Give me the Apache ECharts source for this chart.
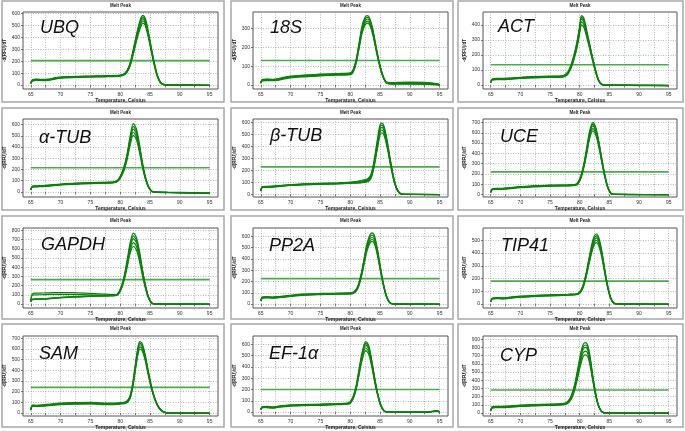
<!DOCTYPE html>
<html><head><meta charset="utf-8">
<script src="https://cdn.jsdelivr.net/npm/echarts@6/dist/echarts.min.js"></script>
<style>html,body{margin:0;padding:0;background:#fff;}#c{width:685px;height:431px;}</style>
</head><body><div id="c"></div>
<script>
// ---- Data ----
const geneNames = ['UBQ','18S','ACT','α-TUB','β-TUB','UCE','GAPDH','PP2A','TIP41','SAM','EF-1α','CYP'];
const thresholds = [205,130,135,215,230,220,265,225,180,240,200,280];
const yLabelMax = [600,300,400,600,600,700,800,600,500,700,600,900];
const xTickLabels = [65,70,75,80,85,90,95];
const xGridValues = [65,67.5,70,72.5,75,77.5,80,82.5,85,87.5,90,92.5,95];

const T_UBQ  = [65,65.3,66,67,68,69,70,72,75,78,80,80.8,81.5,82,82.5,83,83.5,83.8,84.2,84.7,85.2,85.7,86.2,86.7,87.2,88,90,95];
const UBQ_a  = [20,45,50,47,50,60,66,72,76,79,84,100,160,255,370,480,565,585,560,455,320,195,90,30,8,1,0,-2];
const UBQ_d  = [18,43,48,44,48,58,64,70,74,77,82,97,156,250,362,472,552,570,545,440,308,186,84,27,6,0,0,-2];
const UBQ_b  = [15,40,45,42,45,55,62,68,72,75,80,95,150,240,350,460,540,555,530,430,300,180,80,25,5,0,0,-2];
const UBQ_e  = [12,38,42,40,43,52,60,66,70,72,78,92,144,230,335,440,518,538,515,418,292,175,78,24,5,0,0,-3];
const UBQ_c  = [10,35,40,38,40,50,57,63,67,70,75,88,140,220,320,420,495,520,500,405,285,170,75,22,4,0,0,-3];

const T_18S  = [65,65.3,66,67,68,69,70,72,75,78,80,80.5,81,81.5,82,82.5,82.9,83.3,83.8,84.3,84.8,85.3,85.8,86.3,87,88,90,93,95];
const S18_a  = [16,30,31,30,34,42,47,52,58,61,64,82,135,225,315,360,368,352,295,212,132,70,28,14,13,14,15,13,4];
const S18_d  = [14,28,30,29,32,40,45,50,56,59,62,78,130,218,305,350,359,344,288,206,128,67,26,12,11,12,13,11,3];
const S18_b  = [12,27,28,27,30,38,43,48,54,57,60,75,125,210,295,340,350,335,280,200,125,65,25,10,8,9,10,8,2];
const S18_e  = [10,25,26,25,28,36,41,46,52,55,58,72,120,202,285,329,339,325,272,195,121,62,23,8,6,7,7,6,1];
const S18_c  = [8,22,23,23,26,33,38,43,49,52,55,68,115,195,275,318,328,315,265,190,118,60,22,7,5,5,5,4,0];

const T_ACT  = [65,65.3,66,67,68,70,72,75,77,77.5,78,78.5,79,79.5,80,80.3,80.7,81.2,81.7,82.2,82.7,83.2,83.7,84.2,86,90,95];
const ACT_a  = [22,42,44,44,46,52,56,59,61,68,88,130,195,280,395,462,445,360,270,180,97,34,7,1,0,-1,-2];
const ACT_d  = [20,40,42,42,44,50,54,57,59,65,84,125,188,270,382,452,432,350,262,175,94,32,6,0,0,-1,-2];
const ACT_b  = [18,38,40,40,42,48,52,55,57,62,80,120,180,260,370,440,420,340,255,170,90,30,5,0,0,-2,-3];
const ACT_e  = [16,36,38,38,40,46,50,53,55,60,76,114,172,250,358,420,402,328,246,164,86,28,4,0,-1,-2,-3];
const ACT_c  = [14,34,36,36,38,44,48,51,53,57,72,108,165,240,345,400,385,315,238,158,83,26,4,0,-1,-3,-4];

const T_ATUB = [65,65.3,66,67,68,70,72,75,78,79,79.6,80.1,80.6,81.1,81.6,82.2,82.7,83.2,83.7,84.2,84.7,85.2,85.7,88,92,95];
const ATUB_a = [25,52,55,57,61,71,77,83,88,91,108,152,218,325,475,608,565,435,272,142,56,12,1,-3,-6,-8];
const ATUB_d = [22,50,52,55,58,68,75,80,86,88,104,146,210,312,458,585,542,418,262,136,53,11,0,-4,-7,-9];
const ATUB_b = [20,48,50,52,56,66,72,78,83,86,100,140,200,300,440,560,520,400,250,130,50,10,0,-5,-8,-10];
const ATUB_e = [18,46,48,50,54,64,70,76,81,84,97,135,192,288,420,532,495,380,240,124,48,9,0,-5,-9,-11];
const ATUB_c = [16,44,46,48,52,62,68,74,79,82,94,130,185,275,400,505,470,362,228,118,45,8,-1,-6,-10,-12];

const T_BTUB = [65,65.3,66,67,68,70,72,75,78,80,82,83,83.5,84,84.5,85,85.3,85.7,86.2,86.7,87.2,87.7,88.2,88.7,90,95];
const BTUB_a = [34,66,67,69,73,82,87,93,97,102,118,132,170,280,440,580,595,565,450,300,162,66,18,3,0,-1];
const BTUB_d = [32,64,65,67,71,80,85,90,95,99,112,125,160,265,420,560,578,548,435,290,156,63,16,2,0,-1];
const BTUB_b = [30,62,63,65,69,78,83,88,92,96,105,118,150,250,400,540,560,530,420,280,150,60,15,2,0,-2];
const BTUB_e = [28,60,61,63,67,76,81,86,90,94,101,113,142,238,382,518,538,510,405,270,144,57,13,1,0,-2];
const BTUB_c = [26,58,59,61,65,74,79,84,88,92,98,108,135,225,365,495,515,490,390,260,138,54,12,1,-1,-3];

const T_UCE  = [65,65.3,66,67,68,70,72,75,78,79.2,79.7,80.2,80.7,81.2,81.7,82.2,82.7,83.2,83.7,84.2,84.7,85.2,85.7,88,95];
const UCE_a  = [26,58,60,60,65,77,83,90,94,97,118,182,300,460,625,700,655,525,358,200,80,18,2,0,-1];
const UCE_d  = [23,55,57,58,62,74,80,88,92,95,114,176,290,445,608,683,638,512,349,195,78,16,1,0,-1];
const UCE_b  = [20,52,54,55,60,72,78,85,89,92,110,170,280,430,590,665,620,500,340,190,75,15,1,0,-2];
const UCE_e  = [18,50,52,52,58,70,76,82,86,90,106,164,271,415,570,642,600,484,329,184,72,13,0,-1,-2];
const UCE_c  = [15,47,49,50,55,67,73,80,84,87,102,158,262,400,550,620,580,468,318,178,70,12,0,-1,-3];

const T_GAPDH = [65,65.3,66,67,68,70,72,75,78,79.2,79.7,80.2,80.7,81.2,81.7,82.2,82.7,83.2,83.7,84.2,84.7,85.2,85.7,88,95];
const GAPDH_a = [40,112,118,120,122,125,125,115,105,102,125,195,315,490,675,770,725,585,390,215,88,20,3,0,-1];
const GAPDH_d = [35,98,100,102,104,106,106,100,97,99,120,188,302,470,648,740,698,562,375,208,84,19,2,0,-1];
const GAPDH_b = [28,55,57,58,62,74,80,88,93,96,115,180,290,450,620,710,670,540,360,200,80,18,2,0,-2];
const GAPDH_e = [25,52,54,55,59,71,77,85,90,93,110,172,278,430,590,668,630,508,340,189,75,16,1,0,-2];
const GAPDH_c = [22,48,50,52,56,68,74,82,87,90,105,165,265,410,560,625,590,475,318,178,70,14,0,-1,-3];

const T_PP2A = [65,65.3,66,67,68,70,72,75,78,80.3,80.8,81.3,81.8,82.3,82.8,83.3,83.7,84.1,84.6,85.1,85.6,86.1,86.6,87.1,89,95];
const PP2A_a = [35,63,65,62,66,77,88,94,97,101,118,162,258,395,532,612,630,600,478,318,175,70,18,3,0,-1];
const PP2A_d = [32,60,62,60,64,75,85,91,95,99,114,156,249,382,516,594,610,582,464,309,170,68,16,2,0,-1];
const PP2A_b = [30,58,60,57,61,72,82,88,92,96,110,150,240,370,500,575,590,565,450,300,165,65,15,2,0,-2];
const PP2A_e = [28,55,58,55,58,70,80,86,90,94,106,145,232,358,484,556,572,548,436,291,160,62,14,1,0,-2];
const PP2A_c = [25,53,55,52,56,67,77,83,87,91,103,140,225,345,468,538,555,530,422,282,155,60,12,1,-1,-3];

const T_TIP41 = [65,65.3,66,67,68,70,72,75,78,79.5,80,80.5,81,81.5,82,82.4,82.8,83.2,83.7,84.2,84.7,85.2,85.7,86.2,88,95];
const TIP41_a = [24,48,51,48,52,62,67,72,77,81,96,140,225,342,460,528,550,525,425,280,148,54,12,2,0,-1];
const TIP41_d = [22,46,49,46,50,60,65,70,75,79,93,135,218,331,445,512,535,510,412,272,144,52,11,1,0,-1];
const TIP41_b = [20,44,47,44,48,58,63,68,73,77,90,130,210,320,430,495,520,495,400,265,140,50,10,1,0,-2];
const TIP41_e = [18,42,45,42,46,56,61,66,71,75,87,125,202,309,415,478,501,478,386,256,135,48,9,0,0,-2];
const TIP41_c = [16,40,43,40,44,54,59,64,69,73,84,120,195,298,400,460,482,460,372,246,130,45,8,0,-1,-3];

const T_SAM  = [65,65.3,66,67,68,70,72,75,78,80,81,81.6,82.1,82.6,83,83.3,83.7,84.2,84.7,85.2,85.7,86.2,86.7,87.2,87.7,88.2,90,95];
const SAM_a  = [35,74,73,76,81,92,97,100,92,96,108,152,280,480,625,670,650,545,398,262,158,85,38,14,4,1,0,-1];
const SAM_d  = [32,71,70,73,78,88,94,96,88,93,104,146,270,465,608,655,635,532,389,256,154,82,36,13,3,0,0,-1];
const SAM_b  = [30,68,67,70,75,85,90,92,85,90,100,140,260,450,590,640,620,520,380,250,150,80,35,12,3,0,0,-2];
const SAM_e  = [28,65,64,67,72,82,86,88,82,87,96,134,250,435,572,620,601,505,369,243,146,77,33,11,2,0,0,-2];
const SAM_c  = [25,62,61,64,69,78,83,85,78,84,92,128,240,420,555,600,582,490,358,236,141,74,31,10,2,0,-1,-3];

const T_EF1A = [65,65.3,66,67,68,70,72,75,78,79.5,80,80.5,81,81.5,82,82.6,83.1,83.6,84.1,84.6,85.1,85.6,86.1,88,93,94.5,95];
const EF1A_a = [27,49,50,45,53,63,67,70,75,79,92,140,235,385,530,625,590,462,305,168,70,17,3,0,1,12,4];
const EF1A_d = [24,46,48,42,50,60,65,68,72,76,88,135,228,372,515,610,575,451,298,164,68,16,2,0,0,11,3];
const EF1A_b = [22,44,45,40,48,58,62,65,70,74,85,130,220,360,500,595,560,440,290,160,65,15,2,0,0,10,2];
const EF1A_e = [20,42,42,38,46,56,60,62,68,72,82,124,210,345,480,570,538,422,279,154,62,13,1,0,-1,8,1];
const EF1A_c = [17,39,40,35,43,53,57,60,65,69,78,118,200,330,460,545,515,405,268,148,58,12,0,-1,-1,6,0];

const T_CYP  = [65,65.3,66,67,68,70,72,75,77,77.7,78.2,78.7,79.2,79.7,80.2,80.6,81,81.4,81.8,82.2,82.6,83,83.4,83.8,84.3,86,95];
const CYP_a  = [36,78,80,82,84,95,101,107,114,125,160,235,365,550,740,840,860,815,665,460,280,140,55,14,2,0,-1];
const CYP_d  = [33,74,76,78,80,92,98,104,110,120,152,222,348,525,710,810,830,788,642,445,270,135,52,13,1,0,-1];
const CYP_b  = [30,70,72,74,76,88,94,100,106,115,145,210,330,500,680,780,800,760,620,430,260,130,50,12,1,0,-2];
const CYP_e  = [27,66,68,70,72,84,90,96,102,110,138,198,310,470,640,735,755,720,590,412,250,125,48,11,1,0,-2];
const CYP_c  = [24,62,64,66,68,80,86,92,98,106,130,185,290,440,600,690,710,680,560,395,240,120,45,10,0,-1,-3];

const temps  = [T_UBQ,T_18S,T_ACT,T_ATUB,T_BTUB,T_UCE,T_GAPDH,T_PP2A,T_TIP41,T_SAM,T_EF1A,T_CYP];
const traces = [
  [UBQ_a,UBQ_d,UBQ_b,UBQ_e,UBQ_c],[S18_a,S18_d,S18_b,S18_e,S18_c],[ACT_a,ACT_d,ACT_b,ACT_e,ACT_c],
  [ATUB_a,ATUB_d,ATUB_b,ATUB_e,ATUB_c],[BTUB_a,BTUB_d,BTUB_b,BTUB_e,BTUB_c],[UCE_a,UCE_d,UCE_b,UCE_e,UCE_c],
  [GAPDH_a,GAPDH_d,GAPDH_b,GAPDH_e,GAPDH_c],[PP2A_a,PP2A_d,PP2A_b,PP2A_e,PP2A_c],[TIP41_a,TIP41_d,TIP41_b,TIP41_e,TIP41_c],
  [SAM_a,SAM_d,SAM_b,SAM_e,SAM_c],[EF1A_a,EF1A_d,EF1A_b,EF1A_e,EF1A_c],[CYP_a,CYP_d,CYP_b,CYP_e,CYP_c]
];

// ---- Layout ----
const yExtent = [[-33,613],[-21,387],[-26,486],[-45,650],[-22,630],[-25,735],[-43,826],[-35,674],[-31,597],[-28,722],[-35,674],[-37,940]];
const xExtent = [63.7,96.4];
const colFrame = [[23,218],[253,448],[483,677]];
const rowFrame = [[12,89],[119,197],[228,308],[336,416]];
const colBox = [[2,224],[231,453],[458,683]];
const rowBox = [[1,102],[108,210],[216,319],[324,427]];
const geneLabelPos = [[40,28],[270,28],[498,27],[39,138],[270,136],[500,137],[41,245],[269,246],[501,246],[39,354],[269,354],[500,356]];

const grids = [], xAxes = [], yAxes = [], series = [], graphics = [];
geneNames.forEach((g, i) => {
  const col = i % 3, row = Math.floor(i / 3);
  const L = colFrame[col][0], R = colFrame[col][1];
  const Tp = rowFrame[row][0], B = rowFrame[row][1];
  grids.push({left: L, top: Tp, width: R - L, height: B - Tp, show: true,
    borderColor: '#555', borderWidth: 1, backgroundColor: '#fff', containLabel: false, outerBoundsMode: 'none'});
  xAxes.push({type: 'value', gridIndex: i, min: xExtent[0], max: xExtent[1],
    axisLine: {show: false},
    axisTick: {show: true, length: 2, lineStyle: {color: '#555', width: 0.8}, customValues: xGridValues},
    axisLabel: {customValues: xTickLabels, fontSize: 5, margin: 3, color: '#333', fontFamily: 'Liberation Sans'},
    splitLine: {show: true, lineStyle: {color: '#9a9a9a', type: [1, 1.5], width: 0.7}},
    name: 'Temperature, Celsius', nameLocation: 'middle', nameGap: 9,
    nameTextStyle: {fontSize: 5, fontWeight: 'bold', color: '#222', fontFamily: 'Liberation Sans'}});
  const yl = [];
  for (let v = 0; v <= yLabelMax[i]; v += 100) yl.push(v);
  yAxes.push({type: 'value', gridIndex: i, min: yExtent[i][0], max: yExtent[i][1],
    axisLine: {show: false},
    axisTick: {show: true, length: 2, lineStyle: {color: '#555', width: 0.8}, customValues: yl},
    axisLabel: {customValues: yl, fontSize: 5, margin: 3, color: '#333', fontFamily: 'Liberation Sans'},
    splitLine: {show: true, lineStyle: {color: '#9a9a9a', type: [1, 1.5], width: 0.7}},
    name: '-d(RFU)/dT', nameLocation: 'middle', nameGap: 16,
    nameTextStyle: {fontSize: 4.5, fontWeight: 'bold', color: '#222', fontFamily: 'Liberation Sans'}});
  series.push({type: 'line', xAxisIndex: i, yAxisIndex: i, symbol: 'none', silent: true,
    data: [[65, thresholds[i]], [95, thresholds[i]]],
    lineStyle: {color: '#4caa4c', width: 1.6}});
  traces[i].forEach((tr) => {
    series.push({type: 'line', xAxisIndex: i, yAxisIndex: i, symbol: 'none', silent: true,
      smooth: 0.3, data: temps[i].map((t, k) => [t, tr[k]]),
      lineStyle: {color: '#0b820b', width: 1.2}});
  });
  const bx = colBox[col], by = rowBox[row];
  graphics.push({type: 'rect', shape: {x: bx[0], y: by[0], width: bx[1] - bx[0], height: by[1] - by[0]},
    style: {fill: 'none', stroke: '#a8a8a8', lineWidth: 1.5}, silent: true, z: -1});
  graphics.push({type: 'text', x: (L + R) / 2, y: by[0] + 5,
    style: {text: 'Melt Peak', font: 'bold 4.5px "Liberation Sans", Arial, sans-serif', fill: '#222',
      textAlign: 'center', textVerticalAlign: 'middle'}, silent: true});
  graphics.push({type: 'text', x: geneLabelPos[i][0], y: geneLabelPos[i][1],
    style: {text: g, font: 'italic 18px "Liberation Sans", Arial, sans-serif', fill: '#111',
      textAlign: 'left', textVerticalAlign: 'middle'}, silent: true, z: 100});
});

const chart = echarts.init(document.getElementById('c'), null, {renderer: 'canvas'});
chart.setOption({animation: false, backgroundColor: '#fff', grid: grids, xAxis: xAxes, yAxis: yAxes, series: series, graphic: graphics});
</script>
</body></html>
